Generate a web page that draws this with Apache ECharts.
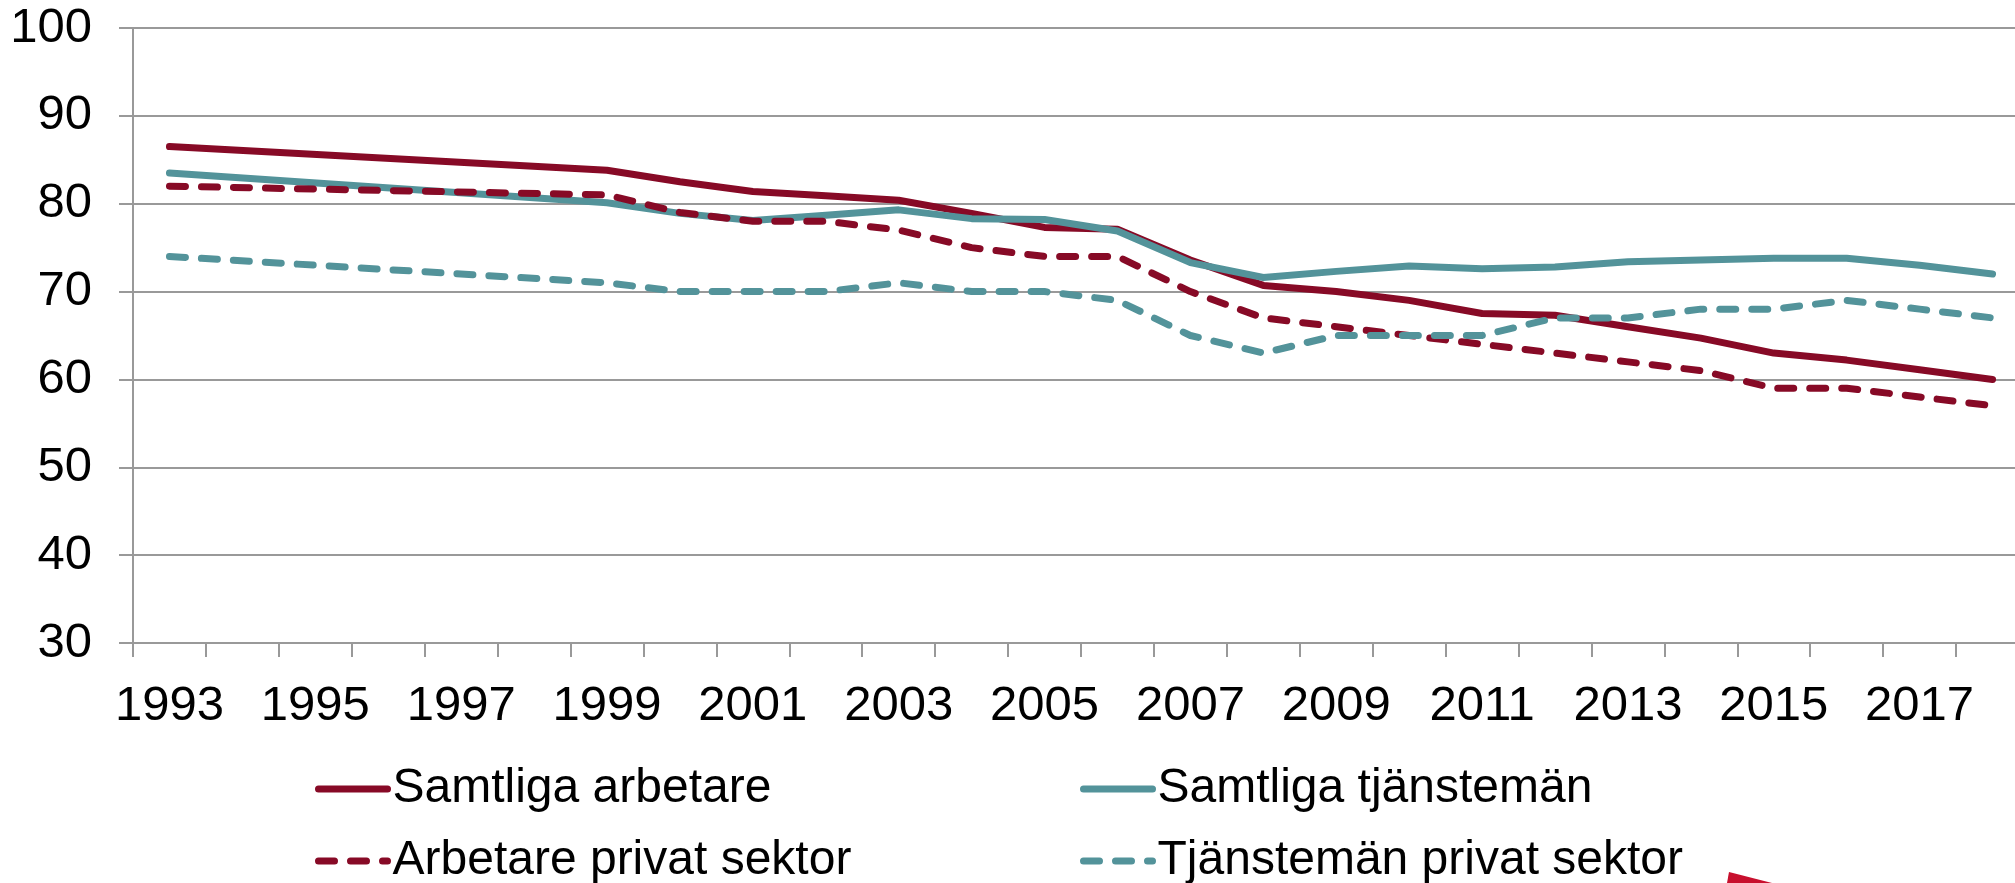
<!DOCTYPE html>
<html>
<head>
<meta charset="utf-8">
<script src="https://cdn.jsdelivr.net/npm/echarts@6/dist/echarts.min.js"></script>
<style>
html,body{margin:0;padding:0;background:#fff;}
#chart{width:2015px;height:883px;}
</style>
</head>
<body>
<div id="chart"></div>
<script>
const years = ['1993','1994','1995','1996','1997','1998','1999','2000','2001','2002','2003','2004','2005','2006','2007','2008','2009','2010','2011','2012','2013','2014','2015','2016','2017','2018'];
const samtligaArbetare   = [86.5,null,null,null,null,null,83.8,82.5,81.4,80.9,80.4,78.9,77.3,77.1,73.6,70.7,70.0,69.0,67.5,67.3,66.0,64.7,63.0,62.2,61.1,60.0];
const samtligaTjansteman = [83.5,null,null,null,null,null,80.1,78.9,78.1,78.7,79.3,78.3,78.2,76.9,73.3,71.6,72.3,72.9,72.6,72.8,73.4,73.6,73.8,73.8,73.0,72.0];
const arbetarePrivat     = [82.0,null,null,null,null,null,81.0,79.0,78.0,78.0,77.0,75.0,74.0,74.0,70.0,67.0,66.0,65.0,64.0,63.0,62.0,61.0,59.0,59.0,58.0,57.0];
const tjanstemanPrivat   = [74.0,null,null,null,null,null,71.0,70.0,70.0,70.0,71.0,70.0,70.0,69.0,65.0,63.0,65.0,65.0,65.0,67.0,67.0,68.0,68.0,69.0,68.0,67.0];
const seriesNames = ['Samtliga arbetare','Samtliga tjänstemän','Arbetare privat sektor','Tjänstemän privat sektor'];

const RED = '#870A26';
const TEAL = '#53939A';
const FONT = "'Liberation Sans', Arial, sans-serif";
const DASH = [16, 16];
const LW = 7;

const chart = echarts.init(document.getElementById('chart'));

function mkSeries(name, data, color, dashed) {
  return {
    name: name, type: 'line', data: data, connectNulls: true,
    symbol: 'none', showSymbol: false, smooth: false,
    lineStyle: { color: color, width: LW, type: dashed ? DASH : 'solid', cap: 'round', join: 'round' },
    itemStyle: { color: color },
    emphasis: { disabled: true },
    animation: false
  };
}

function mkLegend(name, color, dashed, left, top) {
  return {
    data: [name], left: left, top: top, orient: 'horizontal',
    itemWidth: 69, itemHeight: 14, itemGap: 0, padding: 0,
    lineStyle: { color: color, width: LW, type: dashed ? DASH : 'solid', cap: 'round' },
    itemStyle: { opacity: 0, color: 'transparent', borderWidth: 0 },
    textStyle: { fontFamily: FONT, fontSize: 48, color: '#000' },
    selectedMode: false
  };
}

chart.setOption({
  animation: false,
  backgroundColor: '#fff',
  textStyle: { fontFamily: FONT },
  grid: { left: 133, top: 28, right: -14, height: 615, containLabel: false, outerBoundsMode: 'none' },
  legend: [
    mkLegend(seriesNames[0], RED, false, 315, 765),
    mkLegend(seriesNames[1], TEAL, false, 1080, 765),
    mkLegend(seriesNames[2], RED, true, 315, 837),
    mkLegend(seriesNames[3], TEAL, true, 1080, 837)
  ],
  xAxis: {
    type: 'category', data: years, boundaryGap: true,
    axisLine: { show: true, lineStyle: { color: '#999', width: 2 } },
    axisTick: { show: true, interval: 0, length: 14, lineStyle: { color: '#999', width: 2 } },
    axisLabel: { interval: 1, margin: 39, fontSize: 49, color: '#000', fontFamily: FONT },
    splitLine: { show: false }
  },
  yAxis: {
    type: 'value', min: 30, max: 100, interval: 10,
    axisLine: { show: true, lineStyle: { color: '#999', width: 2 } },
    axisTick: { show: true, length: 14, lineStyle: { color: '#999', width: 2 } },
    axisLabel: { margin: 41, fontSize: 49, color: '#000', fontFamily: FONT },
    splitLine: { show: true, lineStyle: { color: '#999', width: 2 } }
  },
  graphic: [{
    type: 'polygon', silent: true,
    shape: { points: [[1729, 872], [1772, 883], [1727, 883]] },
    style: { fill: '#C8102E' }
  }],
  series: [
    mkSeries(seriesNames[0], samtligaArbetare, RED, false),
    mkSeries(seriesNames[1], samtligaTjansteman, TEAL, false),
    mkSeries(seriesNames[2], arbetarePrivat, RED, true),
    mkSeries(seriesNames[3], tjanstemanPrivat, TEAL, true)
  ]
});
</script>
</body>
</html>
